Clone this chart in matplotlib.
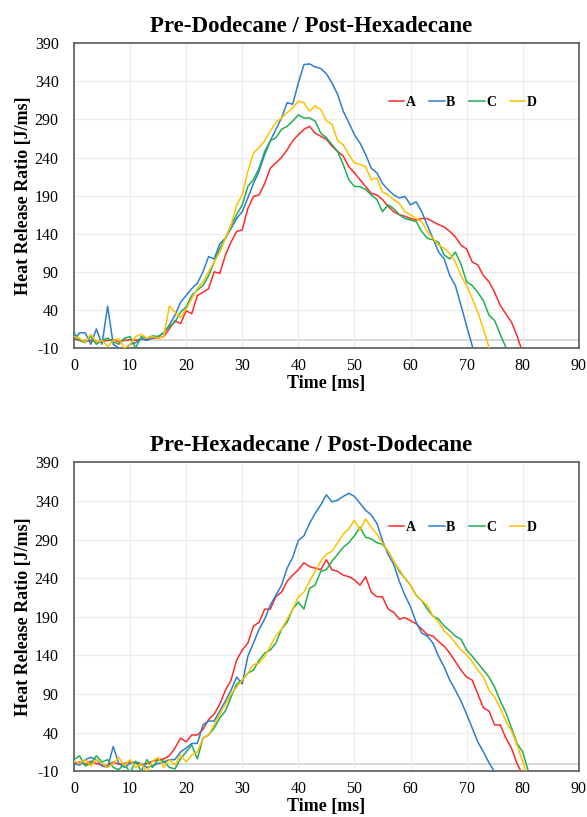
import numpy as np
import matplotlib.pyplot as plt

# Heat release ratio [J/ms], sampled every 1 ms starting at t = 0
# Panel 1: Pre-Dodecane / Post-Hexadecane
top_a = [2, 0, -1, 0, -2, -1, 0, 1, -2, 0, 1, 0, 2, 1, 3, 3, 5,
         15, 26, 22, 39, 35, 59, 63, 68, 90, 88, 112, 129, 143, 145, 173, 189, 191,
         206, 226, 233, 240, 250, 262, 270, 277, 281, 272, 268, 264, 255, 248, 242,
         228, 220, 211, 202, 193, 191, 185, 176, 169, 165, 163, 160, 158, 160, 160,
         156, 152, 149, 143, 136, 125, 120, 103, 99, 85, 77, 63, 46, 35, 24, 6, -16]
top_b = [0, 10, 10, -5, 15, -5, 45, -5, -10, -12, -5, -3, 2, 0, 3, 5, 10,
         20, 33, 50, 59, 68, 75, 90, 110, 107, 127, 134, 147, 160, 169, 187, 206,
         222, 244, 262, 277, 292, 312, 310, 338, 362, 363, 359, 357, 350, 338, 323,
         301, 286, 270, 259, 244, 226, 220, 206, 198, 191, 187, 189, 178, 182, 169,
         151, 134, 116, 107, 85, 72, 46, 19, -7, -30]
top_c = [10, 0, -3, 5, -5, 0, 3, -2, -5, 3, 5, -10, 5, 3, 6, 5, 10,
         18, 24, 37, 44, 59, 66, 72, 85, 103, 121, 134, 151, 165, 178, 202, 211,
         226, 248, 262, 266, 277, 281, 288, 296, 292, 292, 288, 272, 266, 257, 248,
         231, 211, 202, 202, 198, 191, 185, 169, 178, 173, 165, 160, 158, 156, 143,
         134, 132, 129, 112, 107, 116, 100, 77, 72, 63, 52, 33, 26, 8, -9, -25]
top_d = [5, 3, -3, 8, -2, 0, -8, 0, 2, -10, -5, 5, 8, 3, 5, 3, 5,
         45, 37, 30, 41, 55, 68, 77, 90, 103, 116, 134, 151, 178, 191, 222, 246,
         253, 262, 275, 286, 292, 299, 305, 314, 312, 301, 308, 303, 288, 284, 262,
         257, 244, 233, 231, 228, 211, 213, 195, 191, 185, 180, 169, 165, 160, 156,
         143, 134, 125, 121, 114, 103, 85, 72, 55, 37, 15, -9, -30]

# Panel 2: Pre-Hexadecane / Post-Dodecane
bot_a = [0, 2, -1, 3, 0, -2, -3, 2, -1, 0, 2, 1, -2, 0, 3, 5, 6, 10,
         20, 33, 28, 37, 37, 44, 57, 64, 77, 95, 108, 134, 147, 156, 178, 183,
         200, 200, 216, 222, 236, 244, 251, 260, 255, 253, 251, 264, 251, 249, 244,
         242, 238, 231, 242, 222, 216, 216, 200, 196, 187, 189, 185, 181, 174, 167,
         165, 158, 152, 143, 132, 121, 112, 108, 90, 72, 68, 50, 50, 33, 20, 0, -15]
bot_b = [0, -2, 5, 8, 5, -3, -5, 22, 0, -5, 0, 2, 0, -5, -3, 0, 2, 5, 5,
         15, 20, 26, 26, 50, 55, 55, 68, 81, 95, 112, 103, 139, 156, 174, 187,
         205, 218, 231, 253, 267, 289, 295, 311, 324, 335, 348, 339, 341, 346, 350,
         346, 337, 328, 322, 311, 289, 271, 258, 236, 218, 203, 183, 169, 165, 156,
         139, 125, 108, 95, 81, 64, 46, 28, 15, 1, -11, -25]
bot_c = [5, 10, -3, 0, 10, 2, 5, -5, -8, 0, -12, 3, -10, 5, -5, 5, 3, -5,
         -7, 6, 15, 24, 6, 33, 37, 46, 59, 68, 86, 103, 108, 117, 121, 134, 143,
         147, 156, 174, 183, 200, 209, 200, 227, 231, 249, 251, 262, 271, 280, 286,
         295, 306, 293, 291, 286, 284, 275, 262, 249, 240, 231, 218, 211, 200, 191,
         187, 178, 172, 165, 161, 147, 139, 130, 121, 112, 99, 81, 66, 46, 26, 15,
         -10, -25]
bot_d = [3, 0, 5, -3, 5, 0, -5, 0, 8, -3, 5, -5, 0, -10, 3, 8, -5, 5,
         -2, 11, 2, 11, 15, 33, 37, 50, 64, 77, 90, 99, 108, 117, 128, 130, 139,
         152, 165, 174, 187, 200, 216, 222, 236, 249, 262, 271, 275, 286, 297, 304,
         315, 302, 317, 306, 297, 286, 275, 262, 251, 240, 231, 218, 211, 205, 191,
         183, 172, 165, 156, 147, 141, 132, 121, 112, 95, 86, 72, 55, 42, 24, 3, -20]

titles = ['Pre-Dodecane / Post-Hexadecane', 'Pre-Hexadecane / Post-Dodecane']
labels = ['A', 'B', 'C', 'D']
colors = ['#FF2A2A', '#2E7DD1', '#1FAF55', '#FFC000']
yticks = [-10, 40, 90, 140, 190, 240, 290, 340, 390]
xticks = [0, 10, 20, 30, 40, 50, 60, 70, 80, 90]

plt.rcParams['font.family'] = ['Liberation Serif', 'DejaVu Serif']
plt.rcParams['axes.unicode_minus'] = False

fig = plt.figure(figsize=(5.87, 8.17), dpi=100)
ax1 = fig.add_axes([0.126, 0.574, 0.860, 0.373])
ax2 = fig.add_axes([0.126, 0.056, 0.860, 0.378])

panels = [(ax1, [top_a, top_b, top_c, top_d], 0.807),
          (ax2, [bot_a, bot_b, bot_c, bot_d], 0.79)]

for (ax, series, leg_y), title in zip(panels, titles):
    ax.grid(True, color='#ececec', lw=0.8)
    ax.axhline(0, color='#d4d4d4', lw=1.3, zorder=1)
    for vals, lab, col in zip(series, labels, colors):
        t = np.arange(len(vals))
        ax.plot(t, vals, color=col, lw=1.1, label=lab, zorder=3)
    ax.set_xlim(0, 90)
    ax.set_ylim(-10, 390)
    ax.set_xticks(xticks)
    ax.set_yticks(yticks)
    ax.tick_params(axis='both', length=0, labelsize=11.5)
    ax.tick_params(axis='y', pad=11)
    ax.tick_params(axis='x', pad=7)
    for s in ax.spines.values():
        s.set_color('#595959')
        s.set_linewidth(1.2)
    ax.set_title(title, fontsize=16.5, fontweight='bold', pad=8, x=0.47)
    ax.set_xlabel('Time [ms]', fontsize=13, fontweight='bold', labelpad=1)
    ax.set_ylabel('Heat Release Ratio [J/ms]', fontsize=13, fontweight='bold', labelpad=2)
    ax.legend(loc='center', bbox_to_anchor=(0.77, leg_y), ncol=4, frameon=False,
              handlelength=1.1, handletextpad=0.1, columnspacing=1.0,
              prop={'weight': 'bold', 'size': 10})

fig.savefig('out.png', dpi=100)
